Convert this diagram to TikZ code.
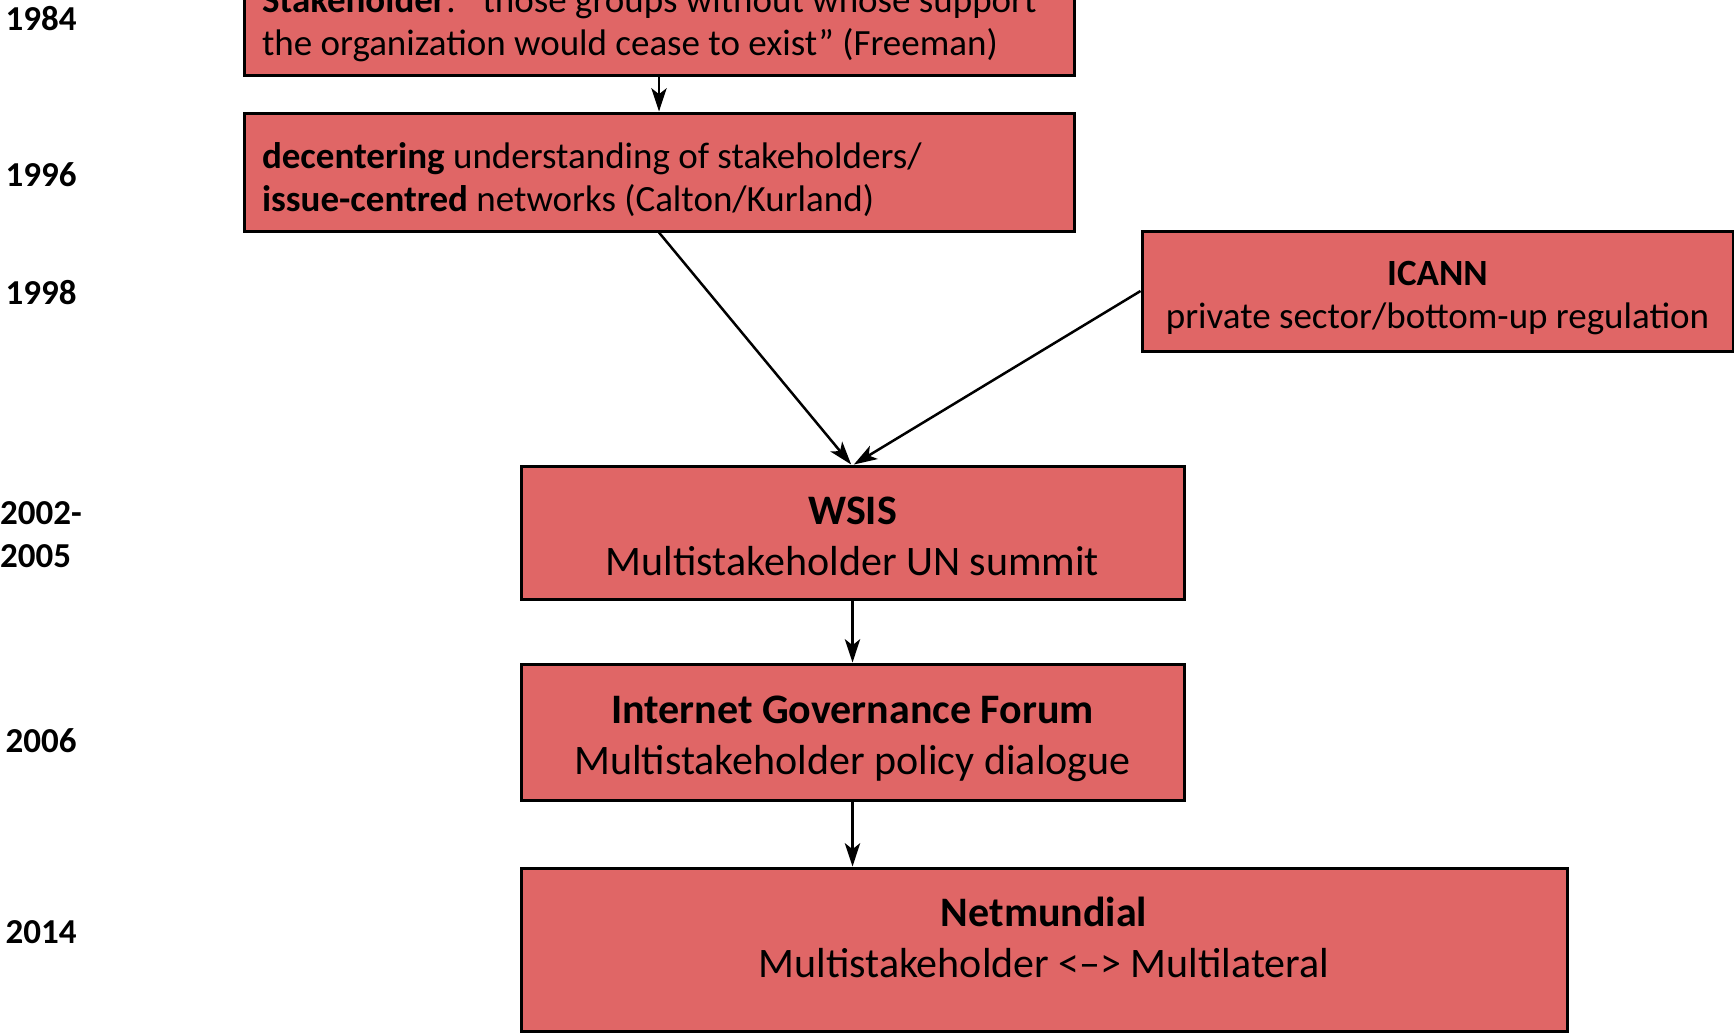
\documentclass[tikz,border=0pt]{standalone}
\usepackage{fontspec}
\setmainfont{Carlito}
\usepackage{xcolor}
\usepackage{tikz}
\usetikzlibrary{arrows.meta,shadows}
\definecolor{boxred}{RGB}{224,102,102}

\begin{document}
\begin{tikzpicture}[x=0.3pt,y=-0.3pt,
		box/.style={rectangle,draw=black,line width=0.9pt,fill=boxred,inner xsep=5.4pt,inner ysep=0pt,
			drop shadow={shadow xshift=0.5pt,shadow yshift=-0.5pt,opacity=0.45,fill=black}},
		small/.style={font=\fontsize{11.1}{12.9}\selectfont},
		big/.style={font=\fontsize{12.6}{15.3}\selectfont,text height=25.5pt,text depth=0pt},
		wide/.style={small,text width=238.2pt,align=flush left,minimum height=35.4pt,text height=7pt,text depth=9.4pt},
		year/.style={font=\fontsize{10.5}{12.9}\selectfont\bfseries,align=left,inner sep=0pt},
		link/.style={line width=0.75pt,-{Stealth[length=7pt,width=4.6pt,inset=1.8pt]}}]
				\useasboundingbox (0,0) rectangle (1734,1033);
				\clip (0,0) rectangle (1734,1033);
				\node[box,wide] (freeman) at (659,16)
					{\textbf{Stakeholder}: “those groups without whose support\\the organization would cease to exist” (Freeman)};
				\node[box,wide] (calton) at (659,172)
					{\textbf{decentering} understanding of stakeholders/\\\textbf{issue-centred} networks (Calton/Kurland)};
				\node[box,small,align=center,minimum width=177.3pt,minimum height=36pt,text height=22.3pt,text depth=0pt] (icann) at (1437.5,291)
					{\textbf{ICANN}\\private sector/bottom-up regulation};
				\node[box,big,align=center,minimum width=198.9pt,minimum height=39.9pt] (wsis) at (852.5,532.5)
					{\textbf{WSIS}\\Multistakeholder UN summit};
				\node[box,big,align=center,minimum width=198.9pt,minimum height=40.8pt] (igf) at (852.5,732)
					{\textbf{Internet Governance Forum}\\Multistakeholder policy dialogue};
				\node[box,big,align=center,minimum width=313.8pt,minimum height=48.9pt,text depth=9pt] (netmundial) at (1044,949.5)
					{\textbf{Netmundial}\\Multistakeholder <–> Multilateral};
				\path (41,19) node[year] (y1984) {1984}
					(41,175) node[year] (y1996) {1996}
					(41,293) node[year] (y1998) {1998}
					(41,535) node[year] (y2002) {2002-\\2005}
					(41,741) node[year] (y2006) {2006}
					(41,932) node[year] (y2014) {2014};
				\draw[link] (freeman.south) -- (calton.north);
				\draw[link] (calton.south) -- ([xshift=-0.4pt]wsis.north);
				\draw[link] (icann.west) -- ([xshift=0.4pt]wsis.north);
				\draw[link] (wsis.south) -- (igf.north);
				\draw[link] (igf.south) -- (igf.south |- netmundial.north);
			\end{tikzpicture}
\end{document}
